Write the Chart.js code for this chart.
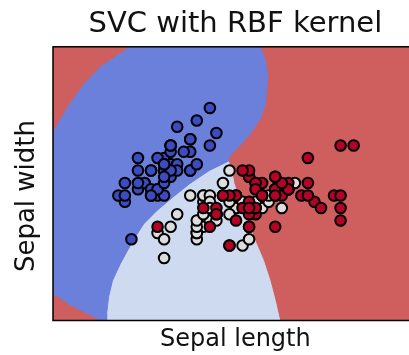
<!DOCTYPE html>
<html>
<head>
<meta charset="utf-8">
<title>SVC with RBF kernel</title>
<script src="https://cdn.jsdelivr.net/npm/chart.js@4.4.1/dist/chart.umd.min.js"></script>
<style>
  html, body { margin: 0; padding: 0; background: #ffffff; overflow: hidden; }
  #wrap { width: 425px; height: 355px; }
</style>
</head>
<body>
<div id="wrap"><canvas id="svcChart" width="425" height="355"></canvas></div>
<script>
// iris: sepal length / sepal width per class
const setosaLength = [5.1,4.9,4.7,4.6,5.0,5.4,4.6,5.0,4.4,4.9,5.4,4.8,4.8,4.3,5.8,5.7,5.4,5.1,5.7,5.1,5.4,5.1,4.6,5.1,4.8,5.0,5.0,5.2,5.2,4.7,4.8,5.4,5.2,5.5,4.9,5.0,5.5,4.9,4.4,5.1,5.0,4.5,4.4,5.0,5.1,4.8,5.1,4.6,5.3,5.0];
const setosaWidth = [3.5,3.0,3.2,3.1,3.6,3.9,3.4,3.4,2.9,3.1,3.7,3.4,3.0,3.0,4.0,4.4,3.9,3.5,3.8,3.8,3.4,3.7,3.6,3.3,3.4,3.0,3.4,3.5,3.4,3.2,3.1,3.4,4.1,4.2,3.1,3.2,3.5,3.6,3.0,3.4,3.5,2.3,3.2,3.5,3.8,3.0,3.8,3.2,3.7,3.3];
const versicolorLength = [7.0,6.4,6.9,5.5,6.5,5.7,6.3,4.9,6.6,5.2,5.0,5.9,6.0,6.1,5.6,6.7,5.6,5.8,6.2,5.6,5.9,6.1,6.3,6.1,6.4,6.6,6.8,6.7,6.0,5.7,5.5,5.5,5.8,6.0,5.4,6.0,6.7,6.3,5.6,5.5,5.5,6.1,5.8,5.0,5.6,5.7,5.7,6.2,5.1,5.7];
const versicolorWidth = [3.2,3.2,3.1,2.3,2.8,2.8,3.3,2.4,2.9,2.7,2.0,3.0,2.2,2.9,2.9,3.1,3.0,2.7,2.2,2.5,3.2,2.8,2.5,2.8,2.9,3.0,2.8,3.0,2.9,2.6,2.4,2.4,2.7,2.7,3.0,3.4,3.1,2.3,3.0,2.5,2.6,3.0,2.6,2.3,2.7,3.0,2.9,2.9,2.5,2.8];
const virginicaLength = [6.3,5.8,7.1,6.3,6.5,7.6,4.9,7.3,6.7,7.2,6.5,6.4,6.8,5.7,5.8,6.4,6.5,7.7,7.7,6.0,6.9,5.6,7.7,6.3,6.7,7.2,6.2,6.1,6.4,7.2,7.4,7.9,6.4,6.3,6.1,7.7,6.3,6.4,6.0,6.9,6.7,6.9,5.8,6.8,6.7,6.7,6.3,6.5,6.2,5.9];
const virginicaWidth = [3.3,2.7,3.0,2.9,3.0,3.0,2.5,2.9,2.5,3.6,3.2,2.7,3.0,2.5,2.8,3.2,3.0,3.8,2.6,2.2,3.2,2.8,2.8,2.7,3.3,3.2,2.8,3.0,2.8,3.0,2.8,3.8,2.8,2.8,2.6,3.0,3.4,3.1,3.0,3.1,3.1,3.1,2.7,3.2,3.3,3.0,2.5,3.0,3.4,3.0];

// mesh limits (min - 1, max + 1)
const xLimits = [3.3, 8.88];
const yLimits = [1.0, 5.38];

// decision regions
const blueRegionX = [3.3, 3.3, 3.53, 3.78, 4.03, 4.44, 4.49, 6.47, 6.55, 6.58, 6.58, 6.55, 6.47, 6.32, 6.14, 5.99, 5.98, 5.69, 5.39, 5.14, 4.89, 4.69, 4.56, 4.44, 4.33, 4.21, 4.15, 4.12, 4.12, 4.03, 3.98, 3.78, 3.53];
const blueRegionY = [1.43, 4.01, 4.42, 4.79, 5.06, 5.35, 5.38, 5.38, 5.16, 4.95, 4.84, 4.47, 4.23, 3.99, 3.78, 3.62, 3.55, 3.40, 3.19, 2.98, 2.76, 2.55, 2.34, 2.12, 1.91, 1.64, 1.38, 1.11, 1.0, 1.0, 1.03, 1.14, 1.27];
const lightRegionX = [5.98, 6.02, 6.07, 6.19, 6.29, 6.39, 6.52, 6.62, 6.70, 6.77, 4.12, 4.12, 4.15, 4.21, 4.33, 4.44, 4.56, 4.69, 4.89, 5.14, 5.39, 5.69];
const lightRegionY = [3.55, 3.46, 3.19, 2.82, 2.55, 2.28, 1.96, 1.64, 1.32, 1.0, 1.0, 1.11, 1.38, 1.64, 1.91, 2.12, 2.34, 2.55, 2.76, 2.98, 3.19, 3.40];

const RED_BG = "rgb(207, 95, 95)";
const BLUE_BG = "rgb(106, 128, 218)";
const LIGHT_BG = "rgb(205, 218, 240)";

function zipPoints(xs, ys) {
  return xs.map((x, i) => ({ x: x, y: ys[i] }));
}

function regionDataset(points, color, order) {
  return {
    data: points,
    showLine: true,
    fill: "shape",
    backgroundColor: color,
    borderColor: color,
    borderWidth: 1,
    pointRadius: 0,
    pointHoverRadius: 0,
    clip: 0,
    order: order,
  };
}

function classDataset(xs, ys, color, order) {
  return {
    data: zipPoints(xs, ys),
    backgroundColor: color,
    borderColor: "#000000",
    borderWidth: 2,
    pointRadius: 5.3,
    pointHoverRadius: 5.3,
    order: order,
  };
}

// black box round the plot
const framePlugin = {
  id: "frame",
  afterDatasetsDraw(chart) {
    const { ctx, chartArea } = chart;
    ctx.save();
    ctx.strokeStyle = "#000000";
    ctx.lineWidth = 1.5;
    ctx.strokeRect(chartArea.left, chartArea.top, chartArea.right - chartArea.left, chartArea.bottom - chartArea.top);
    ctx.restore();
  },
};

Chart.defaults.font.family = "'DejaVu Sans', sans-serif";
Chart.defaults.color = "#111111";

const ctx = document.getElementById("svcChart").getContext("2d");
new Chart(ctx, {
  type: "scatter",
  data: {
    datasets: [
      regionDataset(zipPoints([xLimits[0], xLimits[1], xLimits[1], xLimits[0]], [yLimits[0], yLimits[0], yLimits[1], yLimits[1]]), RED_BG, 10),
      regionDataset(zipPoints(lightRegionX, lightRegionY), LIGHT_BG, 9),
      regionDataset(zipPoints(blueRegionX, blueRegionY), BLUE_BG, 8),
      classDataset(setosaLength, setosaWidth, "#3b4cc0", 3),
      classDataset(versicolorLength, versicolorWidth, "#dddddd", 2),
      classDataset(virginicaLength, virginicaWidth, "#b40426", 1),
    ],
  },
  options: {
    responsive: false,
    animation: false,
    events: [],
    layout: { padding: { left: 0, right: 1.5, top: 0, bottom: 0 } },
    plugins: {
      legend: { display: false },
      tooltip: { enabled: false },
      title: {
        display: true,
        fullSize: false,
        text: "SVC with RBF kernel",
        font: { size: 29, weight: "normal" },
        color: "#111111",
        padding: { top: 7, bottom: 5 },
      },
    },
    scales: {
      x: {
        type: "linear",
        min: xLimits[0],
        max: xLimits[1],
        grid: { display: false },
        border: { display: false },
        ticks: { display: false },
        title: {
          display: true,
          text: "Sepal length",
          font: { size: 24 },
          padding: { top: 0, bottom: 1 },
        },
        afterFit: function (scale) {
          scale.height = 34.5;
        },
      },
      y: {
        type: "linear",
        min: yLimits[0],
        max: yLimits[1],
        grid: { display: false },
        border: { display: false },
        ticks: { display: false },
        title: {
          display: true,
          text: "Sepal width   ",
          font: { size: 26 },
          padding: { top: 11.5, bottom: 0 },
        },
        afterFit: function (scale) {
          scale.width = 53;
        },
      },
    },
  },
  plugins: [framePlugin],
});
</script>
</body>
</html>
